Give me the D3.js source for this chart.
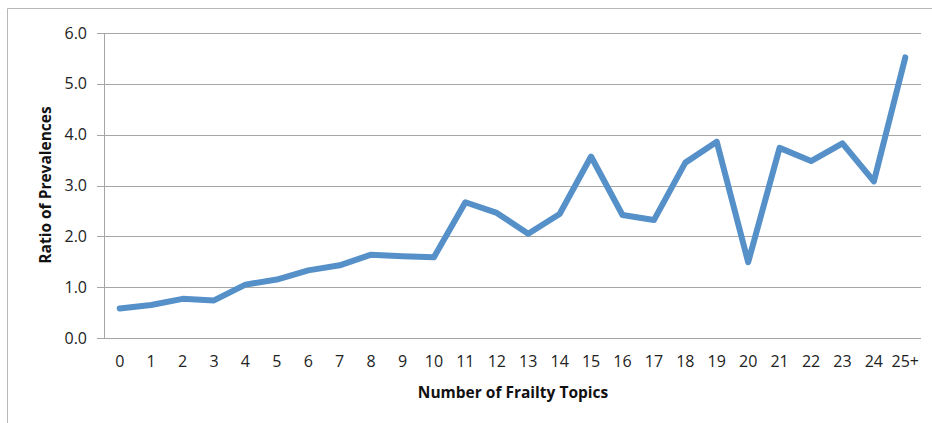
<!DOCTYPE html>
<html>
<head>
<meta charset="utf-8">
<script src="https://cdn.jsdelivr.net/npm/d3@7"></script>
<style>
  body { margin: 0; background: #fff; }
  .tick text { font-family: "Open Sans", sans-serif; font-size: 16px; fill: #222; }
</style>
</head>
<body>
<script>
// categories and values
var categories = ['0', '1', '2', '3', '4', '5', '6', '7', '8', '9', '10', '11', '12',
  '13', '14', '15', '16', '17', '18', '19', '20', '21', '22', '23', '24', '25+'];
var ratios = [0.58, 0.65, 0.77, 0.74, 1.05, 1.15, 1.33, 1.43, 1.64, 1.61, 1.59, 2.67, 2.46,
  2.05, 2.44, 3.57, 2.42, 2.32, 3.45, 3.86, 1.49, 3.74, 3.48, 3.83, 3.08, 5.52];
var yTicks = [0, 1, 2, 3, 4, 5, 6];

var data = categories.map(function(c, i) { return {cat: c, v: ratios[i]}; });

var margin = {top: 33, right: 11, bottom: 85, left: 104};
var W = 932, H = 423;
var width = W - margin.left - margin.right;
var height = H - margin.top - margin.bottom;

var svg = d3.select('body').append('svg')
  .attr('width', W)
  .attr('height', H);

// outer chart frame (cut off at right and bottom)
svg.append('path')
  .attr('d', 'M7.5,' + H + 'V8.5H' + W)
  .attr('fill', 'none')
  .attr('stroke', '#b8b8b8')
  .attr('stroke-width', 1);

var main = svg.append('g')
  .attr('transform', 'translate(' + margin.left + ',' + margin.top + ')');

var x = d3.scaleBand()
  .domain(categories)
  .range([0, width]);

var y = d3.scaleLinear()
  .domain([0, 6])
  .range([height, 0]);

// gridlines + y axis
var yaxis = d3.axisLeft(y)
  .tickValues(yTicks)
  .tickSize(-width - 7)
  .tickPadding(10)
  .tickFormat(d3.format('.1f'));

var yg = main.append('g')
  .attr('transform', 'translate(-7,0)')
  .call(yaxis);
yg.select('.domain').remove();
yg.selectAll('.tick line')
  .attr('stroke', '#a6a6a6')
  .attr('shape-rendering', 'crispEdges');
yg.selectAll('.tick text').attr('x', -10);

// vertical axis line
main.append('line')
  .attr('x1', 0).attr('x2', 0)
  .attr('y1', 0).attr('y2', height)
  .attr('stroke', '#a6a6a6')
  .attr('shape-rendering', 'crispEdges');

var xaxis = d3.axisBottom(x).tickSize(0).tickPadding(18);
var xg = main.append('g')
  .attr('transform', 'translate(0,' + height + ')')
  .call(xaxis);
xg.select('.domain').remove();

var line = d3.line()
  .x(function(d) { return x(d.cat) + x.bandwidth() / 2; })
  .y(function(d) { return y(d.v); });

main.append('path')
  .datum(data)
  .attr('d', line)
  .attr('fill', 'none')
  .attr('stroke', '#5590c8')
  .attr('stroke-width', 6)
  .attr('stroke-linejoin', 'round')
  .attr('stroke-linecap', 'round');

svg.append('text')
  .attr('x', 513)
  .attr('y', 398)
  .attr('text-anchor', 'middle')
  .style('font-family', '"Open Sans", sans-serif')
  .style('font-size', '15.5px')
  .style('font-weight', 'bold')
  .style('fill', '#111')
  .text('Number of Frailty Topics');

svg.append('text')
  .attr('transform', 'translate(51,185) rotate(-90)')
  .attr('text-anchor', 'middle')
  .style('font-family', '"Open Sans", sans-serif')
  .style('font-size', '15.5px')
  .style('font-weight', 'bold')
  .style('fill', '#111')
  .text('Ratio of Prevalences');
</script>
</body>
</html>
